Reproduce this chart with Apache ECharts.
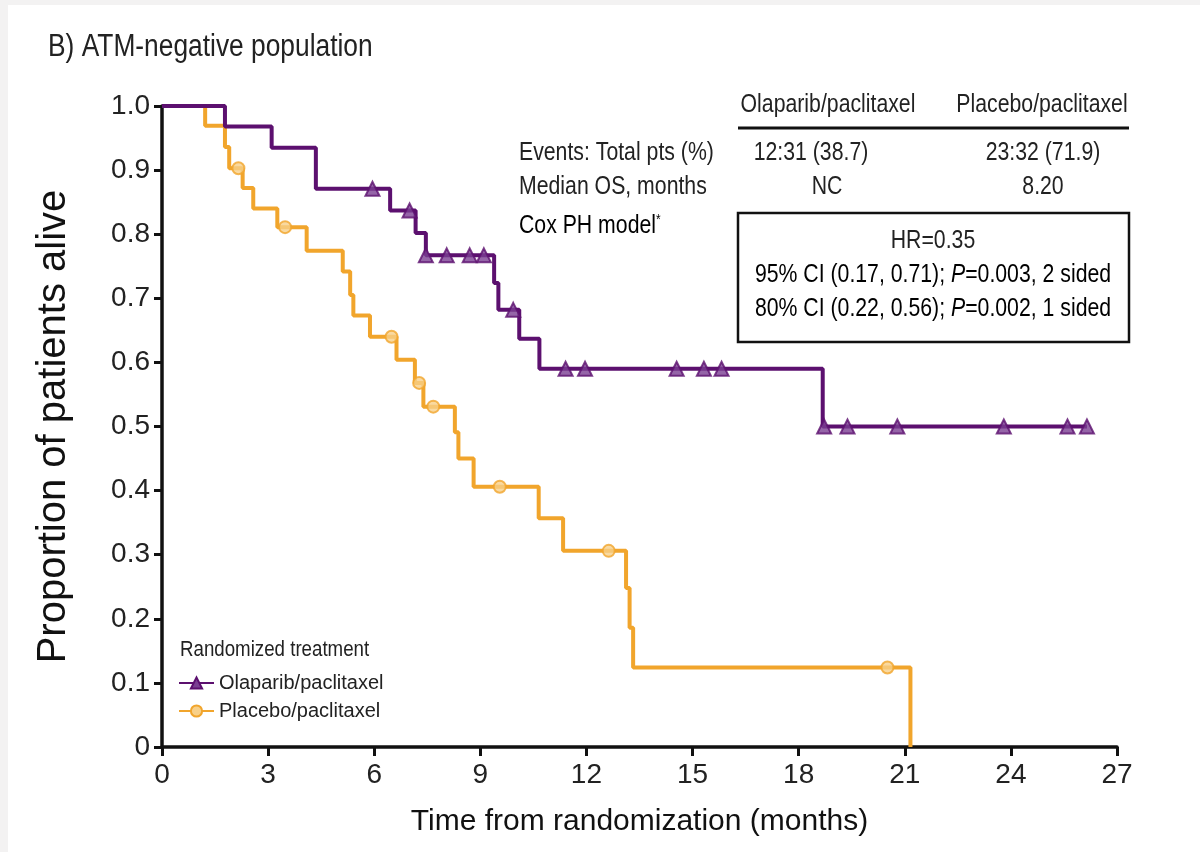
<!DOCTYPE html>
<html>
<head>
<meta charset="utf-8">
<script src="https://cdn.jsdelivr.net/npm/echarts@6/dist/echarts.min.js"></script>
<style>
    html, body { margin: 0; padding: 0; background: #f3f2f2; }
    #paper { position: absolute; left: 8px; top: 5px; width: 1192px; height: 847px; background: #ffffff; }
    #km-chart { position: absolute; left: 0; top: 0; width: 1200px; height: 852px; }
</style>
</head>
<body>
<div id="paper"></div>
<div id="km-chart"></div>
<script>
// Olaparib/paclitaxel: step times (months) and survival after each step
var olaTime = [0, 1.78, 3.1, 4.35, 6.45, 7.17, 7.46, 9.39, 9.51, 10.1, 10.67, 18.68, 26.15];
var olaSurv = [1, 0.968, 0.935, 0.871, 0.837, 0.802, 0.767, 0.724, 0.682, 0.637, 0.590, 0.5, 0.5];
var olaCensor = [5.95, 7.0, 7.46, 8.05, 8.7, 9.1, 9.93, 11.41, 11.96, 14.55, 15.32, 15.82, 18.72, 19.38, 20.79, 23.8, 25.6, 26.15];

// Placebo/paclitaxel
var plaTime = [0, 1.22, 1.78, 1.9, 2.28, 2.58, 3.26, 4.09, 5.11, 5.32, 5.41, 5.88, 6.63, 7.15, 7.39, 8.28, 8.38, 8.81, 10.65, 11.34, 13.12, 13.22, 13.32, 21.16];
var plaSurv = [1, 0.969, 0.936, 0.903, 0.872, 0.840, 0.811, 0.774, 0.742, 0.705, 0.673, 0.640, 0.604, 0.568, 0.531, 0.491, 0.450, 0.406, 0.357, 0.306, 0.248, 0.186, 0.124, 0];
var plaCensor = [2.16, 3.48, 6.49, 7.27, 7.67, 9.55, 12.63, 20.51];

var xTicks = [0, 3, 6, 9, 12, 15, 18, 21, 24, 27];

var purple = '#5c106f';
var orange = '#f1a52c';
var font = "'Liberation Sans', Arial, sans-serif";
var squeeze = 0.85; // the source uses a condensed face

function pairs(t, s) {
    var out = [];
    for (var i = 0; i < t.length; i++) {
        out.push([t[i], s[i]]);
    }
    return out;
}

// value of the step curve at time x
function stepAt(t, s, x) {
    var v = s[0];
    for (var i = 0; i < t.length; i++) {
        if (t[i] <= x) v = s[i];
    }
    return v;
}

function censorPoints(c, t, s) {
    return c.map(function(x) {
        return [x, stepAt(t, s, x)];
    });
}

// condensed-looking text for the table
function label(x, y, txt, align, size) {
    return {
        type: 'text', x: x, y: y, scaleX: squeeze,
        style: { text: txt, font: (size || 25) + 'px ' + font, fill: '#222', align: align || 'left', verticalAlign: 'middle' }
    };
}

function richLabel(x, y, txt, align) {
    return {
        type: 'text', x: x, y: y, scaleX: squeeze,
        style: {
            text: txt, align: align || 'left', verticalAlign: 'middle',
            rich: {
                n: { fontSize: 25, fontFamily: font, color: '#222' },
                i: { fontSize: 25, fontFamily: font, fontStyle: 'italic', color: '#222' },
                s: { fontSize: 14, fontFamily: font, color: '#222', padding: [0, 0, 12, 0] }
            }
        }
    };
}

var chart = echarts.init(document.getElementById('km-chart'));

var option = {
    animation: false,
    backgroundColor: 'transparent',
    textStyle: { fontFamily: font, color: '#222' },
    grid: { left: 162, right: 83, top: 106, bottom: 105 },
    xAxis: {
        type: 'value',
        min: 0,
        max: 27,
        interval: 3,
        axisLine: { onZero: false, lineStyle: { color: '#111', width: 3.5 } },
        axisTick: { show: true, length: 9, lineStyle: { color: '#111', width: 3 } },
        axisLabel: { fontSize: 28, color: '#222', margin: 14, fontFamily: font,
            formatter: function(v) { return xTicks.indexOf(v) >= 0 ? String(v) : ''; } },
        splitLine: { show: false },
        name: 'Time from randomization (months)',
        nameLocation: 'middle',
        nameGap: 60,
        nameTextStyle: { fontSize: 30, color: '#111', fontFamily: font }
    },
    yAxis: {
        type: 'value',
        min: 0,
        max: 1,
        interval: 0.1,
        axisLine: { show: true, onZero: false, lineStyle: { color: '#111', width: 3.5 } },
        axisTick: { show: true, length: 8, lineStyle: { color: '#111', width: 3 } },
        axisLabel: { fontSize: 28, color: '#222', margin: 12, fontFamily: font,
            formatter: function(v) { return v === 0 ? '0' : v.toFixed(1); } },
        splitLine: { show: false },
        name: 'Proportion of patients alive',
        nameLocation: 'middle',
        nameGap: 88,
        nameRotate: 90,
        nameTextStyle: { fontSize: 40, color: '#111', fontFamily: font }
    },
    legend: {
        data: ['Olaparib/paclitaxel', 'Placebo/paclitaxel'],
        orient: 'vertical',
        left: 173,
        top: 668,
        itemWidth: 35,
        itemHeight: 14,
        itemGap: 8,
        textStyle: { fontSize: 20, color: '#222', fontFamily: font }
    },
    graphic: [
        label(48, 47, 'B) ATM-negative population', 'left', 31),
        label(180, 650, 'Randomized treatment', 'left', 22),
        // table header
        label(828, 105, 'Olaparib/paclitaxel', 'center'),
        label(1042, 105, 'Placebo/paclitaxel', 'center'),
        { type: 'line', shape: { x1: 738, y1: 128, x2: 1129, y2: 128 }, style: { stroke: '#111', lineWidth: 3 } },
        label(519, 153, 'Events: Total pts (%)'),
        label(811, 153, '12:31 (38.7)', 'center'),
        label(1043, 153, '23:32 (71.9)', 'center'),
        label(519, 187, 'Median OS, months'),
        label(827, 187, 'NC', 'center'),
        label(1043, 187, '8.20', 'center'),
        richLabel(519, 226, '{n|Cox PH model}{s|*}'),
        // HR box
        { type: 'rect', shape: { x: 738, y: 213, width: 391, height: 129 }, style: { fill: '#fff', stroke: '#111', lineWidth: 2.5 } },
        label(933, 241, 'HR=0.35', 'center'),
        richLabel(933, 275, '{n|95% CI (0.17, 0.71); }{i|P}{n|=0.003, 2 sided}', 'center'),
        richLabel(933, 309, '{n|80% CI (0.22, 0.56); }{i|P}{n|=0.002, 1 sided}', 'center')
    ],
    series: [{
            name: 'Olaparib/paclitaxel',
            type: 'line',
            step: 'end',
            data: pairs(olaTime, olaSurv),
            symbol: 'triangle',
            symbolSize: 13,
            showSymbol: false,
            lineStyle: { color: purple, width: 4 },
            itemStyle: { color: '#7a3f92', borderColor: purple, borderWidth: 2 },
            z: 3
        },
        {
            name: 'olaCensor',
            type: 'scatter',
            data: censorPoints(olaCensor, olaTime, olaSurv),
            symbol: 'triangle',
            symbolSize: 14,
            itemStyle: { color: '#7a3f92', borderColor: purple, borderWidth: 2 },
            z: 4
        },
        {
            name: 'Placebo/paclitaxel',
            type: 'line',
            step: 'end',
            data: pairs(plaTime, plaSurv),
            symbol: 'circle',
            symbolSize: 11,
            showSymbol: false,
            lineStyle: { color: orange, width: 4 },
            itemStyle: { color: '#f8d088', borderColor: orange, borderWidth: 2 },
            z: 2
        },
        {
            name: 'plaCensor',
            type: 'scatter',
            data: censorPoints(plaCensor, plaTime, plaSurv),
            symbol: 'circle',
            symbolSize: 12,
            itemStyle: { color: '#f8d088', borderColor: orange, borderWidth: 2 },
            z: 4
        }
    ]
};

chart.setOption(option);
</script>
</body>
</html>
